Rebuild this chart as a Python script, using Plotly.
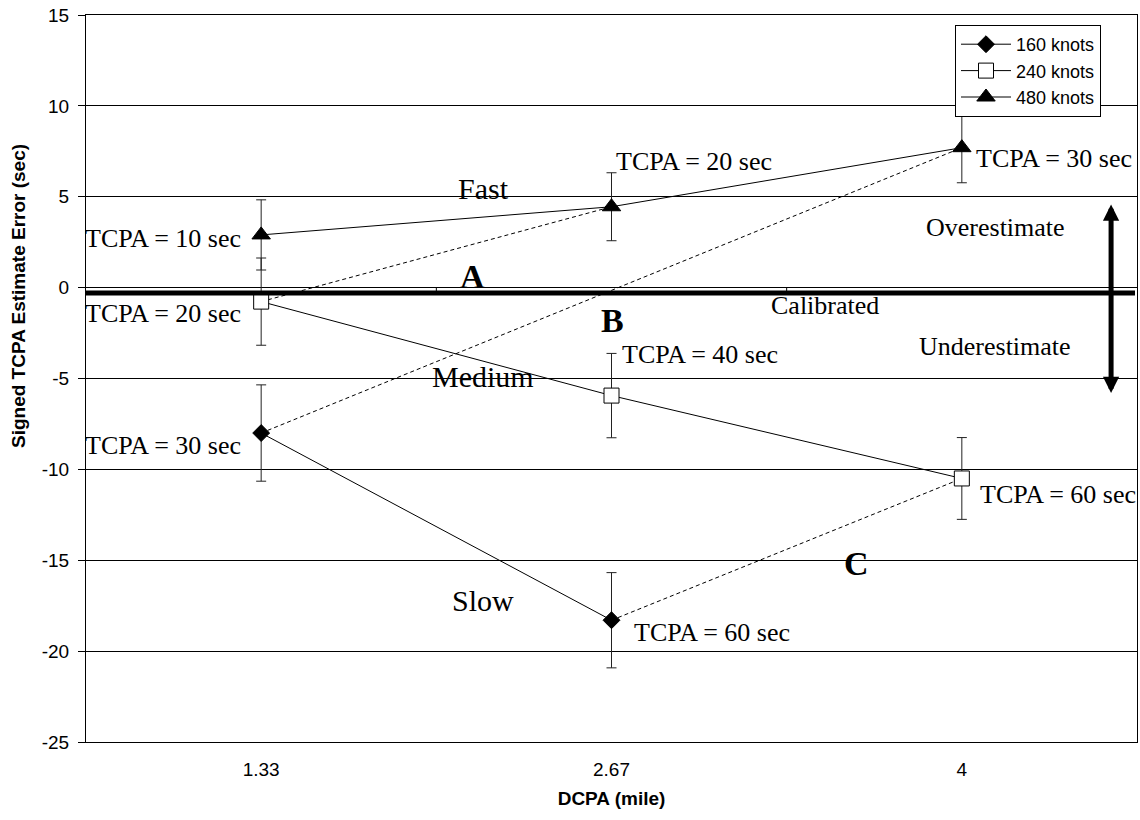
import plotly.graph_objects as go

# ---- data ----
categories = ["1.33", "2.67", "4"]
x_pos = [0, 1, 2]
err_160 = [-8.0, -18.3, None]
sd_160 = [2.65, 2.62, None]
err_240 = [-0.77, -5.94, -10.5]
sd_240 = [2.4, 2.32, 2.25]
err_480 = [2.9, 4.45, 7.7]
sd_480 = [1.93, 1.87, 1.93]
calibrated_level = -0.3
y_ticks = [-25, -20, -15, -10, -5, 0, 5, 10, 15]
y_ticktext = [str(v) for v in y_ticks]

W, H = 1140, 820
ML, MR, MT, MB = 86, 3, 15, 78
PW, PH = W - ML - MR, H - MT - MB


def px2paper(px, py):
    return (px - ML) / PW, (H - MB - py) / PH


fig = go.Figure()

# dashed iso-TCPA connectors
dash_pairs = [
    ((x_pos[0], err_160[0]), (x_pos[2], err_480[2])),
    ((x_pos[0], err_240[0]), (x_pos[1], err_480[1])),
    ((x_pos[1], err_160[1]), (x_pos[2], err_240[2])),
]
for (xa, ya), (xb, yb) in dash_pairs:
    fig.add_trace(go.Scatter(x=[xa, xb], y=[ya, yb], mode="lines",
                             line=dict(color="black", width=1, dash="4px,3px"),
                             showlegend=False, hoverinfo="skip"))

series = [
    ("160 knots", err_160, sd_160, dict(symbol="diamond", size=13, color="black",
                                        line=dict(color="black", width=1))),
    ("240 knots", err_240, sd_240, dict(symbol="square", size=15, color="white",
                                        line=dict(color="black", width=1))),
    ("480 knots", err_480, sd_480, dict(symbol="triangle-up", size=16, color="black",
                                        line=dict(color="black", width=1))),
]
for name, ys, sds, mk in series:
    fig.add_trace(go.Scatter(
        x=x_pos, y=ys, name=name, mode="lines+markers",
        line=dict(color="black", width=1), marker=mk,
        error_y=dict(type="data", array=sds, visible=True, color="#222222",
                     thickness=1, width=5),
        connectgaps=False))

# calibrated thick line
fig.add_shape(type="line", xref="paper", yref="y", x0=0, x1=(1135 - ML) / PW,
              y0=calibrated_level, y1=calibrated_level,
              line=dict(color="black", width=5), layer="above")

# small x-axis ticks between categories on the zero line
for xv in [0.5, 1.5]:
    fig.add_shape(type="line", xref="x", yref="y", x0=xv, x1=xv, y0=0, y1=-0.25,
                  line=dict(color="black", width=1))

serif = "Liberation Serif, Times New Roman, serif"
labels = [
    ("TCPA = 10 sec", 163, 238, 26, False),
    ("Fast", 483, 188, 30, False),
    ("TCPA = 20 sec", 694, 161, 26, False),
    ("TCPA = 30 sec", 1054, 158, 26, False),
    ("Overestimate", 995, 228, 26, False),
    ("A", 472, 276, 34, True),
    ("Calibrated", 825, 305, 26, False),
    ("TCPA = 20 sec", 163, 313, 26, False),
    ("B", 612, 320, 34, True),
    ("Underestimate", 995, 346, 26, False),
    ("TCPA = 40 sec", 700, 355, 26, False),
    ("Medium", 483, 377, 30, False),
    ("TCPA = 30 sec", 163, 446, 26, False),
    ("TCPA = 60 sec", 1058, 494, 26, False),
    ("C", 856, 563, 34, True),
    ("Slow", 483, 600, 30, False),
    ("TCPA = 60 sec", 712, 632, 26, False),
]
for txt, px, py, fs, bold in labels:
    xp, yp = px2paper(px, py)
    fig.add_annotation(x=xp, y=yp, xref="paper", yref="paper",
                       text=f"<b>{txt}</b>" if bold else txt, showarrow=False,
                       font=dict(family=serif, size=fs, color="black"),
                       xanchor="center", yanchor="middle")

# y-axis title
tx, ty = px2paper(18, 296)
fig.add_annotation(x=tx, y=ty, xref="paper", yref="paper", textangle=-90,
                   text="<b>Signed TCPA Estimate Error (sec)</b>", showarrow=False,
                   font=dict(family="Liberation Sans, Arial, sans-serif", size=19,
                             color="black"),
                   xanchor="center", yanchor="middle")

# double-headed arrow
fig.add_annotation(x=2.426, y=-5.8, ax=2.426, ay=4.66, xref="x", yref="y",
                   axref="x", ayref="y", text="", showarrow=True,
                   arrowside="end+start", arrowhead=2, startarrowhead=2,
                   arrowsize=0.65, startarrowsize=0.65, arrowwidth=5,
                   arrowcolor="black", standoff=0, startstandoff=0)

lx, ly = px2paper(955, 25)
fig.update_layout(
    width=W, height=H, margin=dict(l=ML, r=MR, t=MT, b=MB),
    paper_bgcolor="white", plot_bgcolor="white",
    font=dict(family="Liberation Sans, Arial, sans-serif", size=19, color="black"),
    legend=dict(x=lx, y=ly, xanchor="left", yanchor="top",
                bordercolor="black", borderwidth=1, bgcolor="white",
                font=dict(size=18), tracegroupgap=0, itemwidth=50),
    showlegend=True,
)
fig.update_xaxes(range=[-0.5, 2.5], tickvals=x_pos, ticktext=categories,
                 showgrid=False, zeroline=False, showline=True, mirror=True,
                 linecolor="black", linewidth=1, ticks="", ticklabelstandoff=10,
                 title=dict(text="<b>DCPA (mile)</b>", font=dict(size=19), standoff=12))
fig.update_yaxes(range=[-25, 15], tickvals=y_ticks, ticktext=y_ticktext,
                 showgrid=True, gridcolor="black",
                 gridwidth=1, zeroline=False, showline=True, mirror=True,
                 linecolor="black", linewidth=1, ticks="outside", ticklen=7,
                 tickcolor="black", ticklabelstandoff=5)

fig.write_html("out.html")
